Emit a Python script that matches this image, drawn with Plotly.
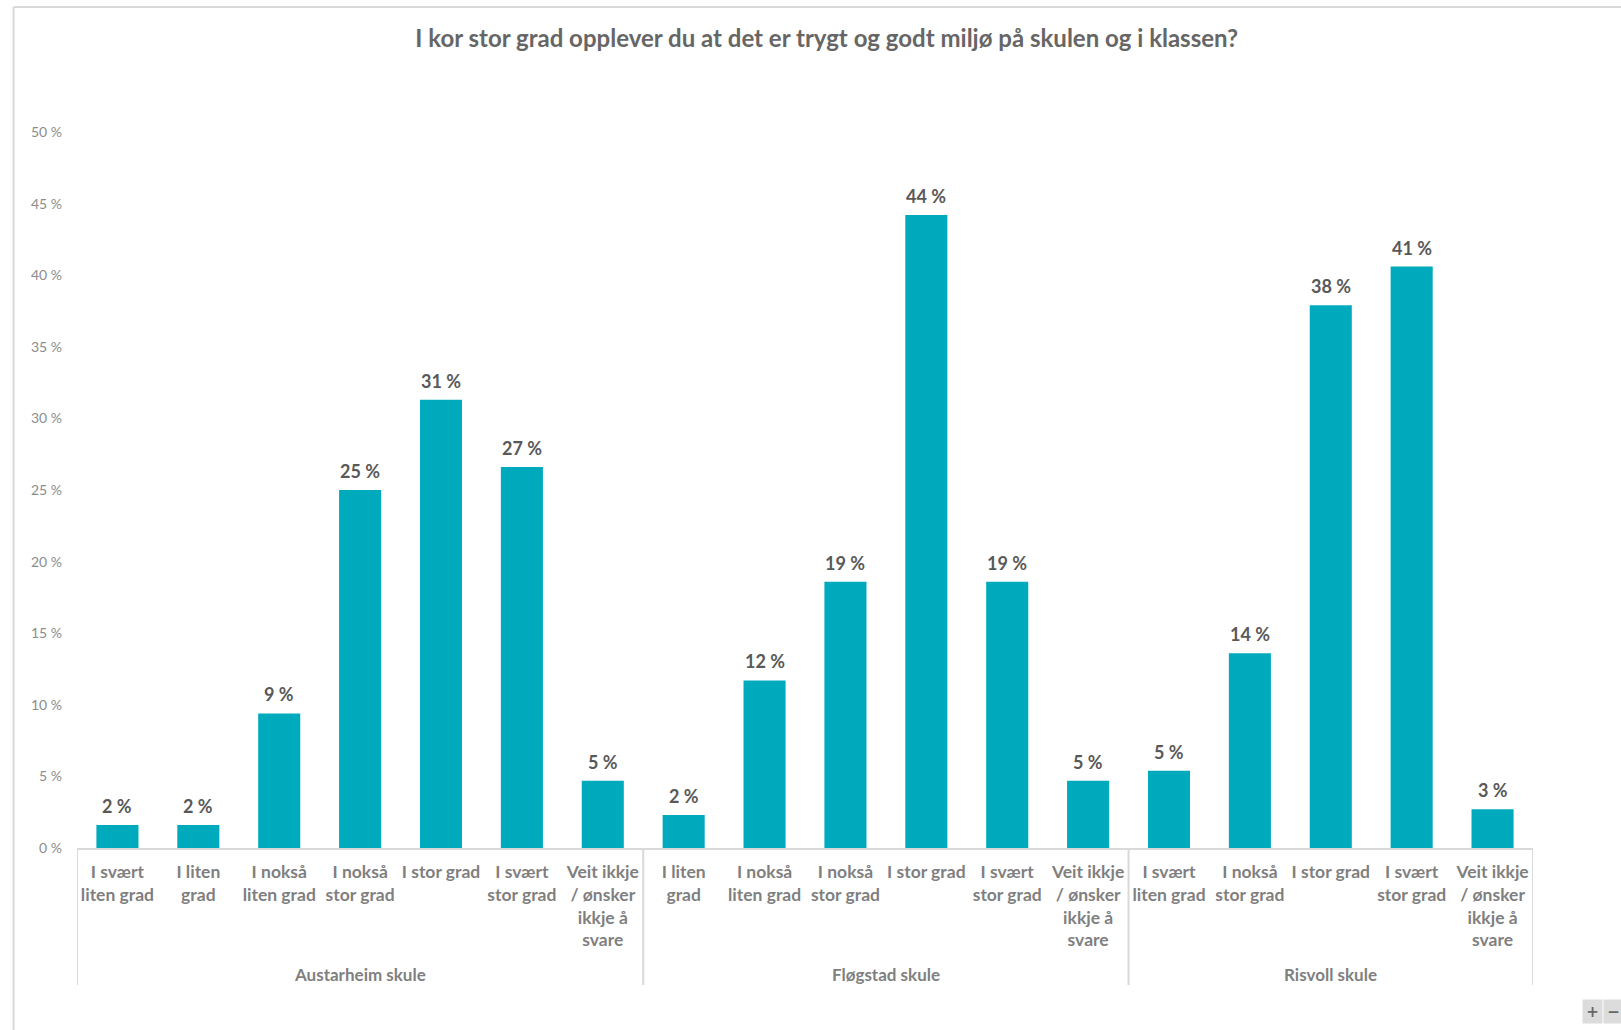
import plotly.graph_objects as go

schools = ["Austarheim skule", "Fløgstad skule", "Risvoll skule"]
cats_austarheim = ["I svært<br>liten grad", "I liten<br>grad", "I nokså<br>liten grad", "I nokså<br>stor grad",
                   "I stor grad", "I svært<br>stor grad", "Veit ikkje<br>/ ønsker<br>ikkje å<br>svare"]
cats_flogstad = ["I liten<br>grad", "I nokså<br>liten grad", "I nokså<br>stor grad",
                 "I stor grad", "I svært<br>stor grad", "Veit ikkje<br>/ ønsker<br>ikkje å<br>svare"]
cats_risvoll = ["I svært<br>liten grad", "I nokså<br>stor grad", "I stor grad",
                "I svært<br>stor grad", "Veit ikkje<br>/ ønsker<br>ikkje å<br>svare"]
vals_austarheim = [1.6, 1.6, 9.4, 25.0, 31.3, 26.6, 4.7]
vals_flogstad = [2.3, 11.7, 18.6, 44.2, 18.6, 4.7]
vals_risvoll = [5.4, 13.6, 37.9, 40.6, 2.7]
yticks = [0, 5, 10, 15, 20, 25, 30, 35, 40, 45, 50]

groups = [cats_austarheim, cats_flogstad, cats_risvoll]
valgroups = [vals_austarheim, vals_flogstad, vals_risvoll]

xs, labels, values, bounds = [], [], [], [-0.5]
i = 0
for cats, vals in zip(groups, valgroups):
    for c, v in zip(cats, vals):
        xs.append(i)
        labels.append(c)
        values.append(v)
        i += 1
    bounds.append(i - 0.5)

FONT = "Lato"
BAR = "#00aabd"
L, R, T, B = 76.5, 88, 132, 182

fig = go.Figure()
fig.add_trace(go.Bar(
    x=xs, y=values, marker=dict(color=BAR, line=dict(width=0)),
    width=0.52, hoverinfo="skip",
))
for x, v in zip(xs, values):
    fig.add_annotation(x=x, y=v, xref="x", yref="y", text=f"<b>{round(v)} %</b>",
                       showarrow=False, yanchor="middle", yshift=19,
                       font=dict(family=FONT, size=18, color="#595959"))

fig.update_layout(
    width=1621, height=1030,
    margin=dict(l=L, r=R, t=T, b=B, autoexpand=False),
    paper_bgcolor="white", plot_bgcolor="white",
    showlegend=False,
    title=dict(text="<b>I kor stor grad opplever du at det er trygt og godt miljø på skulen og i klassen?</b>",
               x=0.51, xanchor="center", y=1 - 39 / 1030, yanchor="middle",
               font=dict(family=FONT, size=24, color="#666666")),
    font=dict(family=FONT),
)
fig.update_xaxes(
    range=[-0.5, len(xs) - 0.5], tickvals=xs, ticktext=labels,
    showline=True, linecolor="#d9d9d9", linewidth=2, showgrid=False, zeroline=False,
    ticks="", ticklabelstandoff=7,
    tickfont=dict(family=FONT, size=17.5, color="#7f7f7f", weight="bold"),
)
fig.update_yaxes(
    range=[0, 50], tickvals=yticks, ticktext=[f"{v} %" for v in yticks],
    showline=False, showgrid=False, zeroline=False, ticks="", ticklabelstandoff=14,
    tickfont=dict(family=FONT, size=14, color="#8c8c8c"),
)

ph = 1030 - T - B
pw = 1621 - L - R
for b in bounds:
    fig.add_shape(type="line", xref="x", yref="paper", x0=b, x1=b, y0=0, y1=-(985 - 848) / ph,
                  line=dict(color="#d9d9d9", width=2))
for s, g, b0, b1 in zip(schools, groups, bounds[:-1], bounds[1:]):
    fig.add_annotation(text=f"<b>{s}</b>", x=(b0 + b1) / 2, xref="x", y=-(974 - 848) / ph, yref="paper",
                       showarrow=False, yanchor="middle",
                       font=dict(family=FONT, size=17, color="#7f7f7f"))

# chart area border (left and top)
fig.add_shape(type="line", xref="paper", yref="paper", x0=(13 - L) / pw, x1=(13 - L) / pw,
              y0=-(1030 - 848) / ph, y1=1 + (T - 7) / ph, line=dict(color="#d9d9d9", width=2))
fig.add_shape(type="line", xref="paper", yref="paper", x0=(13 - L) / pw, x1=1 + R / pw,
              y0=1 + (T - 7) / ph, y1=1 + (T - 7) / ph, line=dict(color="#d9d9d9", width=2))

# zoom buttons
for k, sym in enumerate(["+", "−"]):
    fig.add_annotation(text=f"<b>{sym}</b>", xref="paper", yref="paper",
                       x=(1592.5 + k * 21 - L) / pw, y=-(1011.5 - 848) / ph,
                       xanchor="center", yanchor="middle",
                       showarrow=False, bgcolor="#dcdcdc", width=17, height=21,
                       font=dict(family="DejaVu Sans", size=15, color="#666666"))

fig.write_html("out.html", config={"displayModeBar": False},
               post_script="document.body.style.margin='0';")
